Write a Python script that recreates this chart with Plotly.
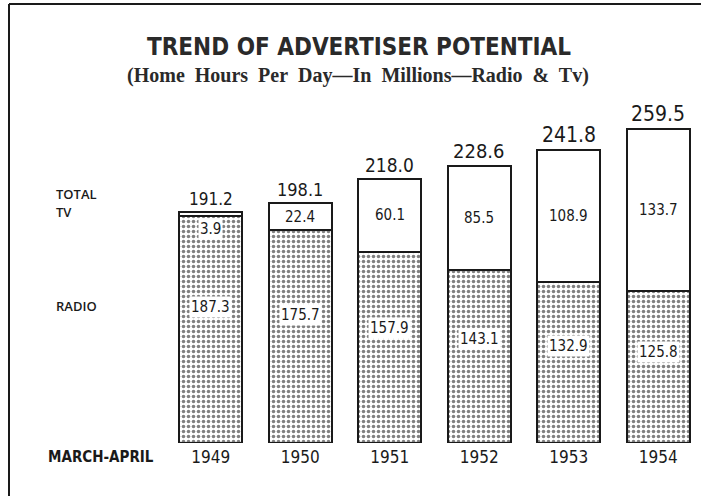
import plotly.graph_objects as go

years = ["1949", "1950", "1951", "1952", "1953", "1954"]
radio = [187.3, 175.7, 157.9, 143.1, 132.9, 125.8]
tv = [3.9, 22.4, 60.1, 85.5, 108.9, 133.7]
totals = [191.2, 198.1, 218.0, 228.6, 241.8, 259.5]

NARROW = "Liberation Sans Narrow, DejaVu Sans Condensed, Arial Narrow, sans-serif"
INK = "#1a1a1a"
xpos = list(range(len(years)))

fig = go.Figure()
fig.add_trace(go.Bar(
    x=xpos, y=radio, name="Radio",
    marker=dict(color="white",
                line=dict(color=INK, width=2),
                pattern=dict(shape=".", size=5, solidity=0.4,
                             fgcolor="#000000", bgcolor="white", fillmode="overlay")),
    hoverinfo="skip",
))
fig.add_trace(go.Bar(
    x=xpos, y=tv, name="TV",
    marker=dict(color="white", line=dict(color=INK, width=2)),
    hoverinfo="skip",
))

annotations = []
total_sizes = [17, 18, 19, 20, 21, 21]
for i in xpos:
    annotations.append(dict(x=i, y=totals[i], xref="x", yref="y", text=f"{totals[i]:.1f}",
                            showarrow=False, xanchor="center", yanchor="bottom", yshift=1,
                            font=dict(family=NARROW, size=total_sizes[i], color=INK)))
    annotations.append(dict(x=i, y=radio[i] * 0.6, xref="x", yref="y", text=f"{radio[i]:.1f}",
                            showarrow=False, xanchor="center", yanchor="middle",
                            bgcolor="white", borderpad=1,
                            font=dict(family=NARROW, size=15, color=INK)))
    if tv[i] < 10:
        annotations.append(dict(x=i, y=radio[i], xref="x", yref="y", text=f"{tv[i]:.1f}",
                                showarrow=False, xanchor="center", yanchor="top", yshift=-2,
                                bgcolor="white", borderpad=1,
                                font=dict(family=NARROW, size=15, color=INK)))
    else:
        annotations.append(dict(x=i, y=radio[i] + tv[i] / 2, xref="x", yref="y", text=f"{tv[i]:.1f}",
                                showarrow=False, xanchor="center", yanchor="middle",
                                font=dict(family=NARROW, size=15, color=INK)))

L, PW = 166, 537
B, PH = 443, 339
def px(x):
    return (x - L) / PW
def py(y):
    return (B - y) / PH

side = [("TOTAL", 194), ("TV", 212), ("RADIO", 306)]
for txt, yy in side:
    annotations.append(dict(x=px(54), y=py(yy), xref="paper", yref="paper", text=txt,
                            showarrow=False, xanchor="left", yanchor="middle",
                            font=dict(family="Open Sans, DejaVu Sans, sans-serif", size=13,
                                      weight=600, color=INK)))
annotations.append(dict(x=px(46), y=py(457), xref="paper", yref="paper", text="MARCH-APRIL",
                        showarrow=False, xanchor="left", yanchor="middle",
                        font=dict(family=NARROW, size=15, weight=600, color=INK)))

annotations.append(dict(x=px(359), y=py(47), xref="paper", yref="paper",
                        text="<b>TREND OF ADVERTISER POTENTIAL</b>", showarrow=False,
                        xanchor="center", yanchor="middle",
                        font=dict(family="DejaVu Sans Condensed, Liberation Sans Narrow, sans-serif",
                                  size=24, color="#2a2a2a")))
sub = "(Home&nbsp; Hours&nbsp; Per&nbsp; Day—In&nbsp; Millions—Radio&nbsp; &amp;&nbsp; Tv)"
annotations.append(dict(x=px(358), y=py(75), xref="paper", yref="paper",
                        text=f"<b>{sub}</b>", showarrow=False,
                        xanchor="center", yanchor="middle",
                        font=dict(family="Liberation Serif, DejaVu Serif, serif",
                                  size=20, color="#2a2a2a")))

shapes = [
    dict(type="line", xref="paper", yref="paper", x0=px(9), x1=px(701), y0=py(4), y1=py(4),
         line=dict(color=INK, width=2)),
    dict(type="line", xref="paper", yref="paper", x0=px(9), x1=px(9), y0=py(4), y1=py(496),
         line=dict(color=INK, width=2)),
]

fig.update_layout(
    width=711, height=496,
    margin=dict(l=L, r=711 - L - PW, t=104, b=496 - 104 - PH),
    barmode="stack", bargap=0.3,
    plot_bgcolor="white", paper_bgcolor="white",
    showlegend=False,
    annotations=annotations, shapes=shapes,
    xaxis=dict(range=[-0.5, 5.5], tickvals=xpos, ticktext=years,
               showgrid=False, zeroline=False, showline=False,
               ticks="", ticklabelstandoff=2,
               tickfont=dict(family=NARROW, size=17, color=INK)),
    yaxis=dict(range=[0, 280], visible=False, showgrid=False),
)

fig.write_html("out.html", config={"displayModeBar": False},
               post_script="document.body.style.margin='0';document.body.style.overflow='hidden';")
